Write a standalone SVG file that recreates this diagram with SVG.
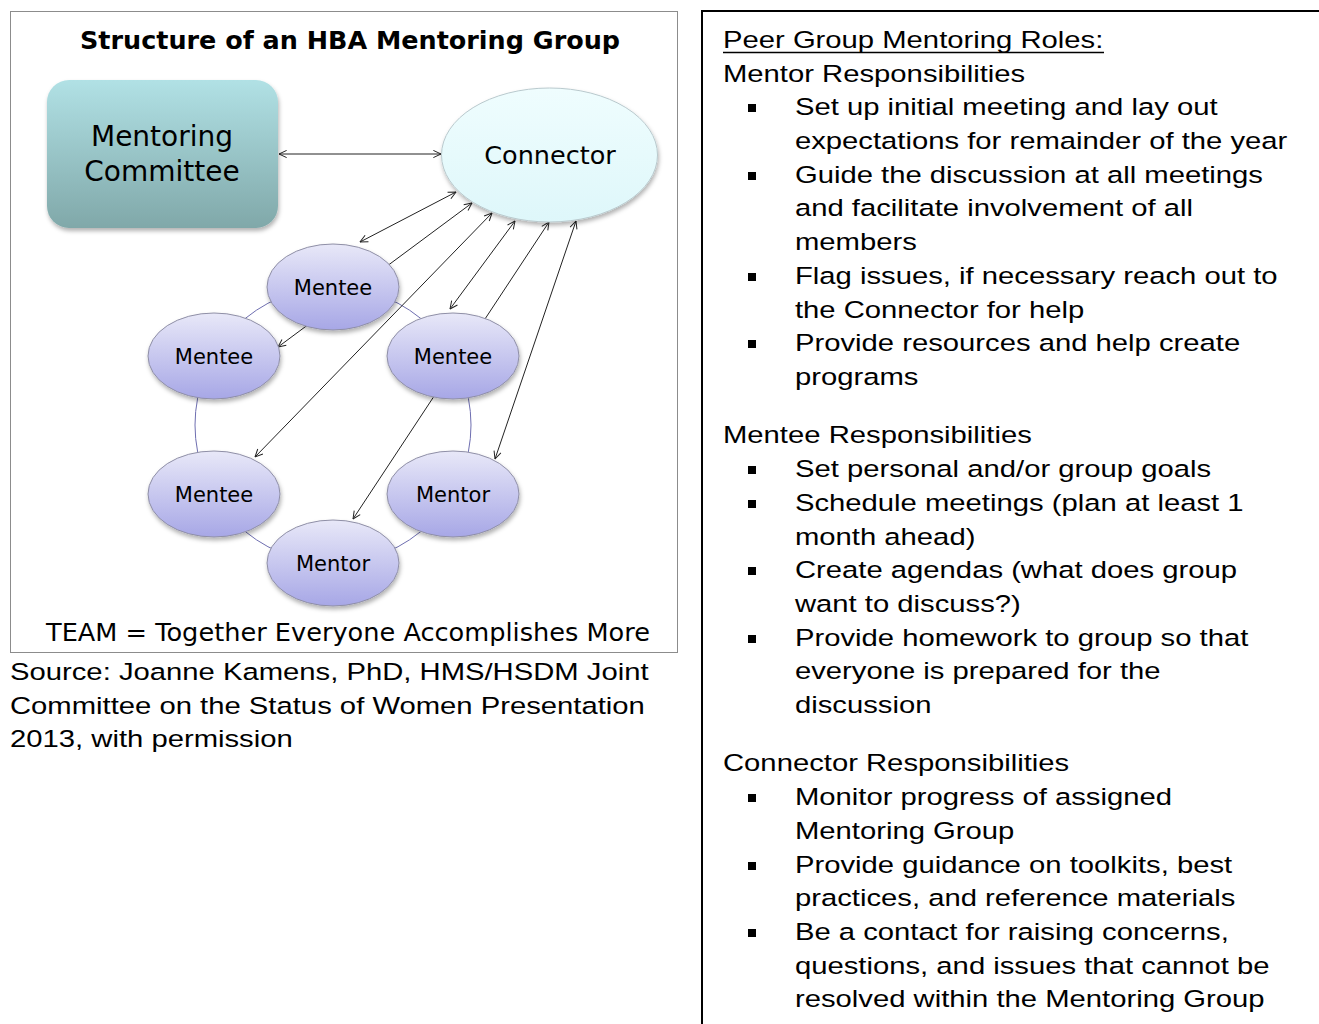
<svg xmlns="http://www.w3.org/2000/svg" width="1319" height="1024" viewBox="0 0 1319 1024">
  <defs>
    <style>
      .vt { font-family: "DejaVu Sans", Verdana, sans-serif; fill: #000; text-anchor: middle; }
      .node-lbl { font-size: 21px; }
      .body { font-family: "Liberation Sans", Arial, sans-serif; font-size: 23.5px; fill: #000; }
      .conn { fill: none; stroke: #222; stroke-width: 1; marker-start: url(#arr); marker-end: url(#arr); }
      .ring { fill: none; stroke: #6e6eb0; stroke-width: 1; }
      .person { fill: url(#gPerson); stroke: #8f8fa6; stroke-width: 1; filter: url(#shadow); }
      .bul { fill: #000; }
    </style>
    <linearGradient id="gPerson" x1="0" y1="0" x2="0" y2="1">
      <stop offset="0" stop-color="#e8e8f8"/>
      <stop offset="1" stop-color="#a7a7e6"/>
    </linearGradient>
    <linearGradient id="gCommittee" x1="0" y1="0" x2="0" y2="1">
      <stop offset="0" stop-color="#b1e1e5"/>
      <stop offset="1" stop-color="#80a8a9"/>
    </linearGradient>
    <linearGradient id="gConnector" x1="0" y1="0" x2="0" y2="1">
      <stop offset="0" stop-color="#effdfe"/>
      <stop offset="1" stop-color="#def7fa"/>
    </linearGradient>
    <filter id="shadow" x="-20%" y="-20%" width="140%" height="150%">
      <feDropShadow dx="1" dy="3" stdDeviation="2" flood-color="#000" flood-opacity="0.3"/>
    </filter>
    <marker id="arr" viewBox="0 0 10 10" refX="9.5" refY="5" markerWidth="9" markerHeight="9" orient="auto-start-reverse" markerUnits="userSpaceOnUse">
      <path d="M1,1 L9.5,5 L1,9" fill="none" stroke="#222" stroke-width="1.1"/>
    </marker>
  </defs>

  <rect width="1319" height="1024" fill="#fff"/>

  <!-- Left diagram frame -->
  <g id="diagram-frame">
    <rect x="10.5" y="11.5" width="667" height="641" fill="#fff" stroke="#8c8c8c" stroke-width="1"/>
    <text class="vt" x="350" y="49" font-size="25.5" font-weight="bold" textLength="540" lengthAdjust="spacingAndGlyphs">Structure of an HBA Mentoring Group</text>
  </g>

  <!-- Ring linking the group members -->
  <g id="ring">
    <circle class="ring" cx="333" cy="425" r="138"/>
  </g>

  <!-- Connectors -->
  <g id="connectors">
    <path class="conn" d="M279,154 L441,154"/>
    <path class="conn" d="M360,242 L456,192"/>
    <path class="conn" d="M278,347 L472,203"/>
    <path class="conn" d="M255,457 L492,213"/>
    <path class="conn" d="M450,309 L515,221"/>
    <path class="conn" d="M353,519 L549,222"/>
    <path class="conn" d="M495,459 L576,221"/>
  </g>

  <g id="mentoring-committee">
    <rect x="47" y="80" width="231" height="148" rx="22" ry="22" fill="url(#gCommittee)" filter="url(#shadow)"/>
    <text class="vt" x="162" y="146" font-size="28">Mentoring</text>
    <text class="vt" x="162" y="181" font-size="28">Committee</text>
  </g>

  <g id="connector">
    <ellipse cx="549.5" cy="155" rx="108" ry="67" fill="url(#gConnector)" stroke="#b9c9cd" stroke-width="1" filter="url(#shadow)"/>
    <text class="vt" x="550" y="164" font-size="25.5">Connector</text>
  </g>

  <g id="mentee-top">
    <ellipse class="person" cx="333" cy="287" rx="66" ry="43"/>
    <text class="vt node-lbl" x="333" y="295">Mentee</text>
  </g>
  <g id="mentee-left">
    <ellipse class="person" cx="214" cy="356" rx="66" ry="43"/>
    <text class="vt node-lbl" x="214" y="364">Mentee</text>
  </g>
  <g id="mentee-right">
    <ellipse class="person" cx="453" cy="356" rx="66" ry="43"/>
    <text class="vt node-lbl" x="453" y="364">Mentee</text>
  </g>
  <g id="mentee-bottom-left">
    <ellipse class="person" cx="214" cy="494" rx="66" ry="43"/>
    <text class="vt node-lbl" x="214" y="502">Mentee</text>
  </g>
  <g id="mentor-right">
    <ellipse class="person" cx="453" cy="494" rx="66" ry="43"/>
    <text class="vt node-lbl" x="453" y="502">Mentor</text>
  </g>
  <g id="mentor-bottom">
    <ellipse class="person" cx="333" cy="563" rx="66" ry="43"/>
    <text class="vt node-lbl" x="333" y="571">Mentor</text>
  </g>

  <g id="team-caption">
    <text class="vt" x="348" y="641" font-size="25.4" textLength="604" lengthAdjust="spacingAndGlyphs">TEAM = Together Everyone Accomplishes More</text>
  </g>

  <!-- Source caption -->
  <g id="source" transform="translate(10 0) scale(1.245 1)">
    <text class="body" x="0" y="680">Source: Joanne Kamens, PhD, HMS/HSDM Joint</text>
    <text class="body" x="0" y="714">Committee on the Status of Women Presentation</text>
    <text class="body" x="0" y="747">2013, with permission</text>
  </g>

  <!-- Right panel -->
  <g id="roles-panel">
    <path d="M702,1024 L702,11 L1319,11" fill="none" stroke="#000" stroke-width="2"/>
    <line x1="723" y1="52.5" x2="1104" y2="52.5" stroke="#000" stroke-width="1.6"/>
    <g class="bullets">
      <rect class="bul" x="748" y="104" width="8" height="8"/>
      <rect class="bul" x="748" y="172" width="8" height="8"/>
      <rect class="bul" x="748" y="273" width="8" height="8"/>
      <rect class="bul" x="748" y="340" width="8" height="8"/>
      <rect class="bul" x="748" y="466" width="8" height="8"/>
      <rect class="bul" x="748" y="500" width="8" height="8"/>
      <rect class="bul" x="748" y="567" width="8" height="8"/>
      <rect class="bul" x="748" y="635" width="8" height="8"/>
      <rect class="bul" x="748" y="794" width="8" height="8"/>
      <rect class="bul" x="748" y="862" width="8" height="8"/>
      <rect class="bul" x="748" y="929" width="8" height="8"/>
    </g>
    <g transform="translate(723 0) scale(1.245 1)">
      <text class="body" x="0" y="48">Peer Group Mentoring Roles:</text>
      <text class="body" x="0" y="82">Mentor Responsibilities</text>
      <text class="body" x="57.8" y="115">Set up initial meeting and lay out</text>
      <text class="body" x="57.8" y="149">expectations for remainder of the year</text>
      <text class="body" x="57.8" y="183">Guide the discussion at all meetings</text>
      <text class="body" x="57.8" y="216">and facilitate involvement of all</text>
      <text class="body" x="57.8" y="250">members</text>
      <text class="body" x="57.8" y="284">Flag issues, if necessary reach out to</text>
      <text class="body" x="57.8" y="318">the Connector for help</text>
      <text class="body" x="57.8" y="351">Provide resources and help create</text>
      <text class="body" x="57.8" y="385">programs</text>

      <text class="body" x="0" y="443">Mentee Responsibilities</text>
      <text class="body" x="57.8" y="477">Set personal and/or group goals</text>
      <text class="body" x="57.8" y="511">Schedule meetings (plan at least 1</text>
      <text class="body" x="57.8" y="545">month ahead)</text>
      <text class="body" x="57.8" y="578">Create agendas (what does group</text>
      <text class="body" x="57.8" y="612">want to discuss?)</text>
      <text class="body" x="57.8" y="646">Provide homework to group so that</text>
      <text class="body" x="57.8" y="679">everyone is prepared for the</text>
      <text class="body" x="57.8" y="713">discussion</text>

      <text class="body" x="0" y="771">Connector Responsibilities</text>
      <text class="body" x="57.8" y="805">Monitor progress of assigned</text>
      <text class="body" x="57.8" y="839">Mentoring Group</text>
      <text class="body" x="57.8" y="873">Provide guidance on toolkits, best</text>
      <text class="body" x="57.8" y="906">practices, and reference materials</text>
      <text class="body" x="57.8" y="940">Be a contact for raising concerns,</text>
      <text class="body" x="57.8" y="974">questions, and issues that cannot be</text>
      <text class="body" x="57.8" y="1007">resolved within the Mentoring Group</text>
    </g>
  </g>
</svg>
